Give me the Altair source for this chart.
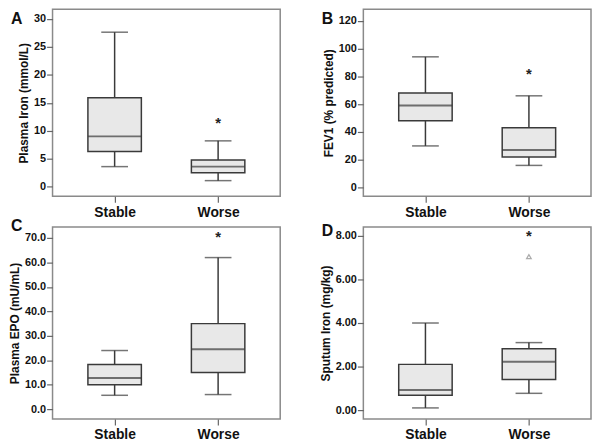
import altair as alt
import pandas as pd

groups = ["Stable", "Worse"]

# five-number summaries per panel: [lower whisker, Q1, median, Q3, upper whisker]
a_stable = [3.6, 6.3, 9.0, 15.9, 27.6]
a_worse = [1.1, 2.5, 3.6, 4.8, 8.2]
b_stable = [30, 48, 59, 68, 94]
b_worse = [16, 22, 27, 43, 66]
c_stable = [5.7, 10.0, 12.8, 18.3, 24.0]
c_worse = [6.0, 15.0, 24.5, 35.0, 62.0]
d_stable = [0.10, 0.68, 0.92, 2.10, 4.00]
d_worse = [0.77, 1.40, 2.22, 2.82, 3.10]

# extreme outliers (*) and outliers (triangle), all in the "Worse" group
a_star = [11.6]
b_star = [82]
c_star = [70.9]
d_star = [8.05]
d_tri = [7.05]

FONT = "Liberation Sans"
DARK = "#3a3a3a"
W = 230


def stats_df(s, w):
    rows = []
    for g, v in zip(groups, [s, w]):
        rows.append(dict(group=g, lo=v[0], q1=v[1], med=v[2], q3=v[3], hi=v[4]))
    return pd.DataFrame(rows)


def panel(s, w, stars, tris, ytitle, domain, ticks, fmt, letter, letter_y, H):
    df = stats_df(s, w)
    x = alt.X("group:N", sort=groups,
              scale=alt.Scale(type="point", padding=0.6),
              axis=alt.Axis(title=None, labelAngle=0, domain=False, ticks=True,
                            tickSize=6, tickColor="#666", tickWidth=1.2,
                            labelFont=FONT, labelFontWeight="bold", labelFontSize=14,
                            labelColor="#111", labelPadding=3))
    yscale = alt.Scale(domain=domain, nice=False, zero=False)
    yaxis = alt.Axis(title=ytitle, values=ticks, format=fmt, grid=False, domain=False,
                     labelOverlap=False, tickCount=len(ticks),
                     tickSize=6, tickColor="#666", tickWidth=1.2,
                     labelFont=FONT, labelFontWeight="bold", labelFontSize=11,
                     labelColor="#111", labelPadding=1,
                     titleFont=FONT, titleFontWeight="bold", titleFontSize=12,
                     titleColor="#111", titlePadding=3)

    def Y(field):
        return alt.Y(field, scale=yscale, axis=yaxis, title=ytitle)

    base = alt.Chart(df)
    whisk = base.mark_rule(color=DARK, strokeWidth=1.5).encode(
        x=x, y=Y("lo:Q"), y2="hi:Q")
    box = base.mark_bar(size=54, fill="#e8e8e8", stroke=DARK, strokeWidth=1.5).encode(
        x=x, y=Y("q1:Q"), y2="q3:Q")
    med = base.mark_tick(size=54, thickness=2, color=DARK).encode(
        x=x, y=Y("med:Q"))
    cap_lo = base.mark_tick(size=27, thickness=1.5, color=DARK).encode(
        x=x, y=Y("lo:Q"))
    cap_hi = base.mark_tick(size=27, thickness=1.5, color=DARK).encode(
        x=x, y=Y("hi:Q"))
    layers = [whisk, box, med, cap_lo, cap_hi]
    sdf = pd.DataFrame({"group": ["Worse"] * len(stars), "v": stars, "t": ["*"] * len(stars)})
    layers.append(alt.Chart(sdf).mark_text(font=FONT, fontWeight="bold", fontSize=15,
                                           color="#222", baseline="alphabetic", dy=6).encode(
        x=x, y=Y("v:Q"), text="t:N"))
    if tris:
        tdf = pd.DataFrame({"group": ["Worse"] * len(tris), "v": tris})
        layers.append(alt.Chart(tdf).mark_point(shape="triangle-up", size=22, filled=False,
                                                color="#888", strokeWidth=1.2).encode(
            x=x, y=Y("v:Q")))
    ldf = pd.DataFrame({"t": [letter]})
    layers.append(alt.Chart(ldf).mark_text(font=FONT, fontWeight="bold", fontSize=16,
                                           color="#111", align="left", baseline="top").encode(
        x=alt.value(-42), y=alt.value(letter_y), text="t:N"))
    return alt.layer(*layers).properties(width=W, height=H)


pa = panel(a_stable, a_worse, a_star, [], "Plasma Iron (mmol/L)", [-1.7, 31.7],
           [0, 5, 10, 15, 20, 25, 30], "d", "A", 2, 189)
pb = panel(b_stable, b_worse, b_star, [], "FEV1 (% predicted)", [-6.2, 128.2],
           [0, 20, 40, 60, 80, 100, 120], "d", "B", 2, 189)
pc = panel(c_stable, c_worse, c_star, [], "Plasma EPO (mU/mL)", [-4.0, 74.5],
           [0, 10, 20, 30, 40, 50, 60, 70], ".1f", "C", -9, 194)
pd_ = panel(d_stable, d_worse, d_star, d_tri, "Sputum Iron (mg/kg)", [-0.41, 8.41],
            [0, 2, 4, 6, 8], ".2f", "D", -4, 194)

chart = alt.concat(pa, pb, pc, pd_, columns=2, bounds="flush",
                   spacing={"row": 31, "column": 84}).properties(
    padding={"top": -2, "left": -1, "right": 0, "bottom": 0}, background="white"
).configure_view(stroke="#8a8a8a", strokeWidth=1.5)

chart.save("out.html", embed_options={"renderer": "svg", "actions": False})
